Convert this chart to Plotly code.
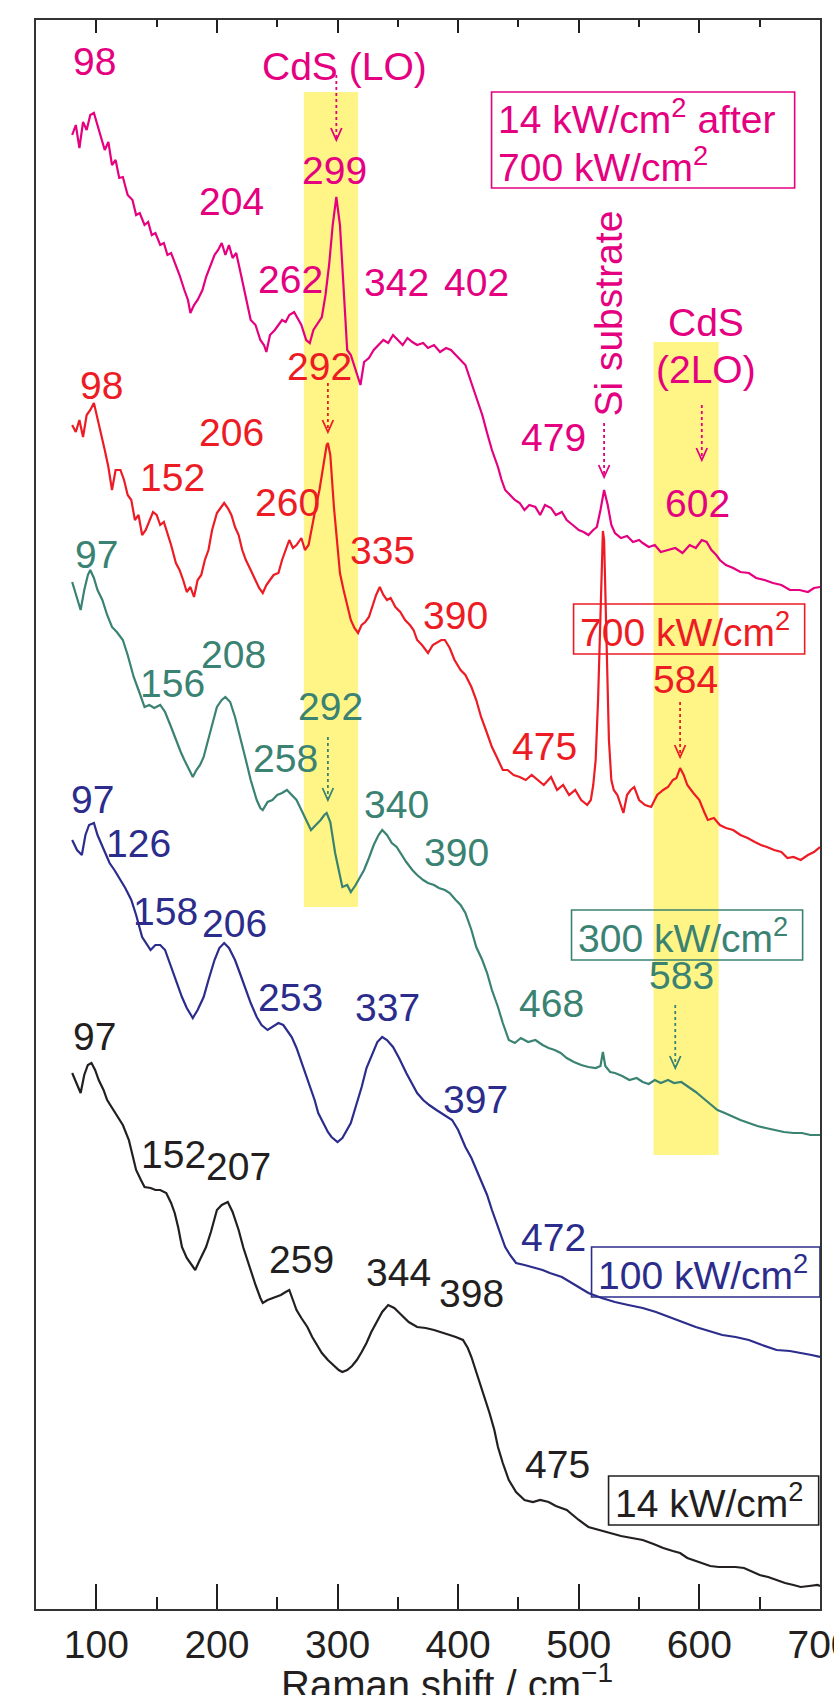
import plotly.graph_objects as go

# Raman spectra (stacked, offset intensities in a.u.) of the same spot at
# increasing excitation power densities.

# 14 kW/cm2 after 700 kW/cm2
shift_after = [80, 83, 86, 89, 92, 95, 98, 101, 104, 107, 110, 113, 116, 119, 122, 126, 130, 133, 136, 140,
               143, 146, 149, 153, 156, 159, 162, 166, 169, 173, 176, 178, 181, 184, 188, 191, 195, 198, 201, 204,
               207, 210, 213, 216, 220, 224, 228, 232, 236, 239, 241, 244, 248, 251, 254, 257, 260, 264, 267, 270,
               274, 277, 280, 284, 287, 290, 293, 296, 299, 302, 305, 308, 311, 315, 319, 322, 326, 330, 334, 338,
               342, 346, 350, 354, 358, 362, 366, 371, 375, 380, 385, 390, 394, 398, 402, 406, 411, 415, 420, 424,
               428, 433, 436, 439, 443, 447, 451, 455, 459, 464, 468, 472, 477, 481, 486, 490, 495, 500, 504, 508,
               512, 515, 518, 521, 524, 527, 530, 535, 540, 545, 550, 553, 558, 563, 568, 574, 580, 586, 592, 597,
               602, 606, 610, 614, 617, 622, 628, 634, 641, 647, 654, 661, 668, 675, 683, 690, 695, 700]
int_after = [1474, 1484, 1461, 1487, 1479, 1494, 1496, 1484, 1471, 1459, 1467, 1444, 1449, 1431, 1432, 1414, 1409, 1394, 1396, 1384,
             1387, 1374, 1376, 1364, 1366, 1354, 1356, 1344, 1334, 1319, 1309, 1296, 1304, 1309, 1319, 1332, 1344, 1354, 1359, 1366,
             1354, 1364, 1351, 1356, 1334, 1312, 1289, 1284, 1269, 1264, 1257, 1274, 1279, 1284, 1289, 1287, 1294, 1297, 1291, 1284,
             1269, 1266, 1279, 1287, 1292, 1314, 1344, 1384, 1412, 1384, 1319, 1259, 1254, 1239, 1224, 1247, 1251, 1259, 1264, 1269,
             1266, 1274, 1269, 1264, 1271, 1267, 1264, 1266, 1261, 1264, 1257, 1261, 1259, 1254, 1249, 1244, 1226, 1212, 1194, 1176,
             1159, 1142, 1129, 1119, 1114, 1109, 1106, 1099, 1104, 1102, 1094, 1104, 1101, 1094, 1097, 1089, 1084, 1079, 1077, 1074,
             1079, 1082, 1099, 1119, 1104, 1084, 1076, 1071, 1073, 1067, 1069, 1066, 1062, 1064, 1057, 1059, 1061, 1056, 1064, 1061,
             1069, 1067, 1059, 1054, 1049, 1044, 1041, 1037, 1036, 1031, 1029, 1026, 1024, 1019, 1019, 1017, 1021, 1022]

# 700 kW/cm2
shift_700 = [80, 83, 86, 89, 92, 95, 98, 101, 104, 107, 110, 113, 116, 120, 123, 126, 129, 132, 135, 138,
             141, 144, 147, 150, 153, 156, 159, 162, 166, 169, 172, 175, 178, 181, 184, 187, 190, 193, 196, 200,
             203, 206, 209, 212, 215, 218, 221, 224, 228, 232, 235, 238, 241, 244, 247, 251, 254, 257, 260, 263,
             266, 270, 273, 276, 279, 282, 285, 288, 291, 292, 294, 297, 300, 302, 305, 308, 311, 314, 317, 320,
             323, 326, 329, 332, 335, 338, 341, 344, 348, 352, 356, 360, 363, 366, 370, 375, 379, 383, 386, 389,
             393, 397, 402, 406, 411, 415, 419, 423, 428, 432, 437, 441, 446, 451, 456, 461, 466, 471, 477, 482,
             487, 492, 497, 502, 507, 510, 512, 514, 516, 518, 519, 520, 521, 522, 523, 525, 527, 529, 532, 535,
             537, 540, 543, 546, 550, 555, 560, 565, 570, 574, 578, 581, 584, 587, 590, 595, 600, 604, 607, 612,
             617, 622, 628, 634, 640, 646, 651, 656, 662, 668, 673, 678, 684, 690, 695, 700]
int_700 = [1184, 1177, 1189, 1172, 1194, 1199, 1206, 1191, 1176, 1159, 1142, 1119, 1139, 1139, 1129, 1114, 1109, 1089, 1094, 1074,
           1079, 1089, 1097, 1094, 1084, 1087, 1076, 1064, 1046, 1039, 1029, 1017, 1022, 1012, 1029, 1034, 1049, 1059, 1079, 1096,
           1101, 1106, 1101, 1094, 1082, 1074, 1059, 1049, 1039, 1029, 1021, 1016, 1024, 1029, 1034, 1036, 1049, 1059, 1069, 1061,
           1064, 1071, 1059, 1064, 1084, 1102, 1119, 1144, 1164, 1166, 1154, 1102, 1064, 1036, 1019, 1004, 989, 981, 976, 984,
           987, 992, 1004, 1014, 1022, 1014, 1009, 1011, 1002, 997, 989, 984, 979, 969, 964, 956, 964, 967, 969, 969,
           961, 949, 939, 934, 922, 909, 892, 879, 862, 852, 839, 839, 834, 832, 829, 834, 829, 824, 832, 819,
           824, 814, 819, 809, 804, 809, 824, 849, 909, 989, 1049, 1078, 1069, 1019, 959, 869, 829, 819, 814, 804,
           796, 814, 819, 822, 809, 804, 802, 814, 819, 822, 829, 831, 841, 834, 824, 816, 809, 797, 789, 791,
           784, 781, 779, 774, 771, 767, 764, 762, 759, 757, 751, 752, 749, 754, 757, 762]

# 300 kW/cm2
shift_300 = [80, 84, 87, 90, 93, 95, 98, 101, 105, 109, 113, 117, 122, 126, 131, 135, 140, 144, 148, 153,
             157, 162, 166, 170, 173, 177, 180, 183, 186, 189, 193, 196, 200, 204, 207, 211, 215, 219, 224, 228,
             233, 236, 238, 242, 246, 250, 254, 258, 262, 266, 270, 274, 278, 282, 286, 289, 291, 294, 298, 301,
             304, 308, 311, 315, 318, 322, 326, 330, 334, 337, 341, 345, 349, 353, 357, 362, 366, 371, 375, 380,
             384, 389, 393, 398, 402, 406, 411, 415, 420, 424, 428, 433, 437, 442, 447, 452, 458, 464, 470, 475,
             480, 485, 490, 496, 502, 508, 514, 518, 520, 522, 526, 530, 536, 542, 548, 553, 558, 563, 568, 574,
             579, 585, 591, 597, 603, 609, 615, 621, 628, 634, 641, 648, 655, 663, 670, 678, 685, 692, 700]
int_300 = [1027, 1011, 999, 1019, 1034, 1039, 1031, 1019, 1009, 994, 982, 977, 969, 954, 932, 919, 902, 904, 901, 904,
           897, 882, 869, 857, 849, 839, 832, 839, 844, 852, 869, 884, 902, 909, 912, 907, 892, 874, 849, 829,
           809, 801, 799, 807, 809, 814, 816, 819, 814, 809, 799, 789, 779, 784, 789, 794, 796, 787, 756, 739,
           722, 724, 717, 724, 731, 739, 751, 764, 774, 779, 774, 766, 762, 754, 747, 739, 734, 729, 726, 724,
           721, 719, 716, 709, 704, 696, 679, 662, 649, 636, 619, 602, 586, 569, 566, 571, 567, 569, 564, 561,
           559, 556, 551, 547, 544, 542, 541, 543, 557, 543, 537, 536, 533, 529, 531, 527, 525, 529, 526, 529,
           526, 527, 522, 517, 511, 505, 499, 496, 492, 489, 486, 483, 481, 479, 477, 476, 476, 474, 474]

# 100 kW/cm2
shift_100 = [80, 84, 88, 91, 94, 98, 101, 105, 108, 111, 115, 120, 124, 129, 133, 138, 142, 145, 149, 153,
             157, 162, 166, 171, 175, 180, 184, 189, 193, 198, 202, 206, 210, 215, 219, 224, 228, 233, 237, 242,
             246, 251, 255, 258, 262, 266, 270, 273, 277, 281, 284, 288, 292, 295, 300, 304, 308, 311, 315, 320,
             324, 329, 333, 337, 341, 346, 351, 357, 362, 366, 371, 376, 382, 388, 395, 400, 406, 411, 415, 420,
             424, 428, 431, 435, 439, 443, 448, 455, 464, 470, 476, 486, 497, 508, 519, 530, 541, 553, 564, 575,
             586, 597, 608, 619, 630, 641, 652, 664, 675, 686, 693, 700]
int_100 = [769, 759, 754, 774, 784, 786, 774, 762, 754, 746, 739, 729, 721, 709, 694, 672, 664, 659, 664, 664,
           659, 642, 629, 612, 601, 591, 599, 612, 629, 649, 661, 666, 661, 649, 636, 619, 606, 592, 584, 579,
           582, 586, 584, 579, 572, 561, 547, 536, 522, 509, 496, 486, 477, 472, 467, 471, 479, 486, 502, 522,
           541, 556, 567, 572, 569, 562, 551, 536, 524, 516, 509, 504, 499, 494, 489, 479, 462, 451, 439, 426,
           414, 399, 389, 374, 362, 354, 346, 344, 341, 339, 336, 332, 324, 316, 311, 307, 304, 301, 297, 292,
           287, 282, 278, 274, 272, 269, 264, 259, 258, 256, 254, 252]

# 14 kW/cm2
shift_14 = [80, 84, 87, 90, 93, 96, 99, 102, 106, 109, 113, 118, 122, 127, 130, 133, 137, 140, 145, 149,
            153, 158, 162, 165, 168, 171, 175, 179, 182, 185, 188, 191, 195, 200, 204, 209, 213, 218, 222, 227,
            232, 236, 238, 242, 246, 249, 253, 257, 260, 263, 266, 270, 275, 279, 283, 287, 292, 298, 301, 304,
            308, 312, 316, 320, 324, 328, 333, 337, 342, 347, 353, 359, 366, 373, 380, 386, 393, 398, 404, 408,
            411, 415, 419, 423, 426, 430, 433, 437, 442, 448, 455, 462, 468, 475, 481, 490, 500, 508, 517, 526,
            535, 544, 553, 562, 570, 578, 584, 590, 597, 603, 609, 616, 623, 630, 637, 644, 650, 657, 664, 671,
            678, 684, 691, 698, 700]
int_14 = [536, 524, 516, 534, 544, 546, 539, 529, 519, 509, 501, 492, 484, 469, 454, 439, 429, 422, 421, 419,
          419, 416, 406, 396, 381, 362, 351, 344, 339, 347, 354, 362, 377, 399, 404, 407, 397, 379, 361, 342,
          324, 311, 306, 309, 311, 312, 314, 317, 319, 309, 299, 291, 282, 272, 264, 256, 249, 242, 239, 237,
          239, 243, 249, 257, 266, 277, 289, 297, 304, 301, 294, 287, 282, 281, 279, 277, 274, 272, 269, 261,
          252, 237, 222, 209, 196, 179, 162, 146, 129, 117, 109, 107, 109, 107, 103, 99, 89, 82, 79, 76,
          73, 71, 69, 65, 61, 58, 56, 51, 48, 45, 43, 42, 42, 42, 41, 37, 34, 32, 29, 26,
          24, 22, 23, 24, 23]

COL_AFTER = "#E4007F"
COL_700 = "#ED1C24"
COL_300 = "#3A8272"
COL_100 = "#2B2C8C"
COL_14 = "#231F20"
BAND = "#FFF586"
FONT = "Liberation Sans, Arial, Helvetica, sans-serif"
FS = 39

# Peak labels: (text, x position in cm-1, y position in a.u., colour)
peak_labels = [
    ("98", 98.3, 1548, COL_AFTER), ("299", 297.4, 1439, COL_AFTER), ("204", 212, 1408, COL_AFTER),
    ("262", 261, 1330, COL_AFTER), ("342", 348.9, 1327, COL_AFTER), ("402", 415.2, 1327, COL_AFTER),
    ("479", 479.1, 1172, COL_AFTER), ("602", 598.6, 1106, COL_AFTER),
    ("292", 285, 1243, COL_700), ("98", 104.1, 1224, COL_700), ("206", 212, 1177, COL_700),
    ("152", 163, 1132, COL_700), ("260", 258.4, 1107, COL_700), ("335", 337.2, 1059, COL_700),
    ("390", 397.8, 994, COL_700), ("584", 588.6, 930, COL_700), ("475", 471.6, 863, COL_700),
    ("97", 100, 1055, COL_300), ("208", 213.6, 955, COL_300), ("156", 163, 926, COL_300),
    ("292", 294.1, 903, COL_300), ("258", 256.8, 851, COL_300), ("340", 348.9, 805, COL_300),
    ("390", 398.6, 757, COL_300), ("583", 585.3, 634, COL_300), ("468", 477.4, 606, COL_300),
    ("97", 96.7, 810, COL_100), ("126", 134.8, 766, COL_100), ("158", 157.2, 698, COL_100),
    ("206", 214.5, 686, COL_100), ("253", 260.9, 612, COL_100), ("337", 341.4, 602, COL_100),
    ("397", 414.4, 510, COL_100), ("472", 479.1, 372, COL_100),
    ("97", 98.3, 573, COL_14), ("152", 163.9, 455, COL_14), ("207", 217.8, 443, COL_14),
    ("259", 270, 350, COL_14), ("344", 350.5, 337, COL_14), ("398", 411.1, 316, COL_14),
    ("475", 482.4, 145, COL_14),
]

# Dotted pointer arrows: (x in cm-1, y start, y end, colour)
pointers = [
    (299, 1534, 1469, COL_AFTER), (521, 1186, 1132, COL_AFTER), (602, 1204, 1149, COL_AFTER),
    (292, 1226, 1177, COL_700), (584, 907, 852, COL_700),
    (292, 872, 809, COL_300), (580, 604, 541, COL_300),
]

# Power-density boxes: (lines, x0, x1, y0, y1, colour)
boxes = [
    (["14 kW/cm<sup>2</sup> after", "700 kW/cm<sup>2</sup>"], 427.7, 679.0, 1421, 1517, COL_AFTER),
    (["700 kW/cm<sup>2</sup>"], 495.7, 687.3, 955, 1005, COL_700),
    (["300 kW/cm<sup>2</sup>"], 494.0, 685.6, 649, 699, COL_300),
    (["100 kW/cm<sup>2</sup>"], 510.6, 700.0, 312, 362, COL_100),
    (["14 kW/cm<sup>2</sup>"], 524.7, 698.9, 84, 133, COL_14),
]

fig = go.Figure()

series = [
    (shift_14, int_14, COL_14, "14 kW/cm²"),
    (shift_100, int_100, COL_100, "100 kW/cm²"),
    (shift_300, int_300, COL_300, "300 kW/cm²"),
    (shift_700, int_700, COL_700, "700 kW/cm²"),
    (shift_after, int_after, COL_AFTER, "14 kW/cm² after 700 kW/cm²"),
]
for xs, ys, col, name in series:
    fig.add_trace(go.Scatter(x=xs, y=ys, mode="lines", name=name,
                             line=dict(color=col, width=2.2), showlegend=False))

# invisible trace so the top axis is drawn
fig.add_trace(go.Scatter(x=[50, 700], y=[0, 0], xaxis="x2", mode="lines",
                         line=dict(width=0), hoverinfo="skip", showlegend=False))

shapes = [
    dict(type="rect", xref="x", yref="y", x0=272, x1=317, y0=702, y1=1517,
         fillcolor=BAND, line=dict(width=0), layer="below"),
    dict(type="rect", xref="x", yref="y", x0=562, x1=616, y0=454, y1=1267,
         fillcolor=BAND, line=dict(width=0), layer="below"),
]

annotations = []
for txt, x, y, col in peak_labels:
    annotations.append(dict(x=x, y=y, xref="x", yref="y", text=txt, showarrow=False,
                            xanchor="center", yanchor="middle",
                            font=dict(family=FONT, size=FS, color=col)))

annotations += [
    dict(x=305.7, y=1543, text="CdS (LO)", showarrow=False, xanchor="center", yanchor="middle",
         font=dict(family=FONT, size=FS, color=COL_AFTER)),
    dict(x=605.2, y=1287, text="CdS", showarrow=False, xanchor="center", yanchor="middle",
         font=dict(family=FONT, size=FS, color=COL_AFTER)),
    dict(x=605.2, y=1240, text="(2LO)", showarrow=False, xanchor="center", yanchor="middle",
         font=dict(family=FONT, size=FS, color=COL_AFTER)),
    dict(x=523.9, y=1295, text="Si substrate", textangle=-90, showarrow=False,
         xanchor="center", yanchor="middle", font=dict(family=FONT, size=FS, color=COL_AFTER)),
    # x-axis title, set below the tick labels
    dict(x=251.5, y=-0.046, xref="x", yref="paper", text="Raman shift / cm<sup>−1</sup>",
         showarrow=False, xanchor="left", yanchor="middle",
         font=dict(family=FONT, size=FS + 1, color=COL_14)),
]

for x, y0, y1, col in pointers:
    shapes.append(dict(type="line", xref="x", yref="y", x0=x, x1=x, y0=y0, y1=y1 + 2,
                       line=dict(color=col, width=1.8, dash="dot")))
    shapes.append(dict(type="path", xref="x", yref="y",
                       path=f"M {x - 4.5},{y1 + 12} L {x},{y1} L {x + 4.5},{y1 + 12}",
                       line=dict(color=col, width=1.8)))

for lines, x0, x1, y0, y1, col in boxes:
    shapes.append(dict(type="rect", xref="x", yref="y", x0=x0, x1=x1, y0=y0, y1=y1,
                       line=dict(color=col, width=1.6), fillcolor="rgba(0,0,0,0)"))
    n = len(lines)
    step = (y1 - y0) / n
    for i, ln in enumerate(lines):
        annotations.append(dict(x=x0 + 3.5, y=y1 - step * (i + 0.5), xref="x", yref="y",
                                text=ln, showarrow=False, xanchor="left", yanchor="middle",
                                font=dict(family=FONT, size=FS, color=col)))

fig.update_layout(
    width=834, height=1695,
    margin=dict(l=36, r=14, t=20, b=86),
    paper_bgcolor="white", plot_bgcolor="white",
    font=dict(family=FONT, size=FS, color=COL_14),
    xaxis=dict(range=[50, 700], tickvals=[100, 200, 300, 400, 500, 600, 700],
               ticks="inside", ticklen=25, tickwidth=1.8, tickcolor="#231F20",
               ticklabeloverflow="allow", automargin=False, ticklabelstandoff=0,
               minor=dict(tickvals=[150, 250, 350, 450, 550, 650], ticks="inside",
                          ticklen=12, tickwidth=1.8, tickcolor="#231F20"),
               showline=True, linecolor="#333333", linewidth=2, showgrid=False, zeroline=False,
               tickfont=dict(family=FONT, size=FS, color=COL_14)),
    xaxis2=dict(overlaying="x", side="top", range=[50, 700], automargin=False,
                tickvals=[100, 200, 300, 400, 500, 600, 700], showticklabels=False,
                ticks="inside", ticklen=13, tickwidth=1.8, tickcolor="#231F20",
                minor=dict(tickvals=[150, 250, 350, 450, 550, 650], ticks="inside",
                           ticklen=7, tickwidth=1.8, tickcolor="#231F20"),
                showline=True, linecolor="#333333", linewidth=2, showgrid=False, zeroline=False),
    yaxis=dict(range=[0, 1589], showticklabels=False, ticks="", showgrid=False, zeroline=False,
               showline=True, mirror=True, linecolor="#333333", linewidth=2, automargin=False),
    shapes=shapes,
    annotations=annotations,
)

fig.write_html("out.html")
